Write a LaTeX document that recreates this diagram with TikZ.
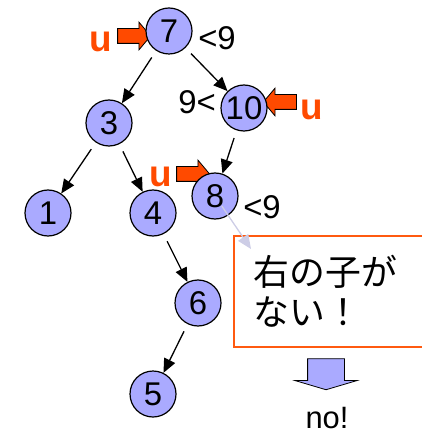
\documentclass[tikz,border=0pt]{standalone}
\usepackage{fontspec}
\setmainfont{Liberation Sans}
\newfontfamily\jpfont{Noto Sans CJK JP}
\usetikzlibrary{arrows.meta,shapes.arrows}
\definecolor{nodeblue}{HTML}{AAAAFF}
\definecolor{ptrorange}{HTML}{FF4A00}
\definecolor{boxorange}{HTML}{FF5A10}
\definecolor{hintgray}{HTML}{CDCDE6}
\tikzset{
  >={Triangle[length=14bp,width=12bp]},
  % tree
  bn/.style={circle,draw=black,fill=nodeblue,line width=1.2bp,inner sep=0pt,
             minimum size=46bp,font=\fontsize{33}{33}\selectfont},
  be/.style={->,draw=black,line width=1.3bp,shorten <=8bp},
  lbl/.style={font=\fontsize{33}{33}\selectfont,inner sep=0pt},
  % pointer u
  ptr/.style={single arrow,draw=black,fill=ptrorange,line width=0.8bp,
              inner xsep=0pt,inner ysep=7bp,minimum height=33bp,
              single arrow head extend=6.5bp,single arrow tip angle=100},
  utxt/.style={font=\fontsize{37}{37}\selectfont\bfseries,text=ptrorange,
               inner sep=0pt},
  % note
  note/.style={draw=boxorange,line width=1.6bp,anchor=north west,align=left,
               text width=157bp,inner xsep=20bp,minimum height=111bp,
               font=\jpfont\fontsize{36}{41}\selectfont},
  hint/.style={-{Triangle[length=14bp,width=12bp]},draw=hintgray,
               line width=1.3bp,shorten <=12bp},
  down/.style={single arrow,draw=black,fill=nodeblue,line width=0.8bp,
               inner xsep=18bp,inner ysep=0pt,minimum height=31bp,
               single arrow head extend=12.5bp,single arrow tip angle=147,
               shape border rotate=270},
}

\begin{document}
\begin{tikzpicture}[x=1bp,y=-1bp]
\useasboundingbox (0,0) rectangle (421,436);
  % u pointers (under the nodes)
  \node[ptr] (p7) at (131,36) {};
  \node[ptr,shape border rotate=180] (p10) at (283,102) {};
  \node[ptr] (p8) at (190,174) {};
  \node[utxt] (u7) at (101,42) {u};
  \node[utxt] (u10) at (312,110) {u};
  \node[utxt] (u8) at (161,177) {u};
  % tree
  \node[bn] (n7) at (169,31) {7};
  \node[bn] (n10) at (244,108) {10};
  \node[bn] (n3) at (109,123) {3};
  \node[bn] (n1) at (48,213) {1};
  \node[bn] (n4) at (153,213) {4};
  \node[bn] (n8) at (215,196) {8};
  \node[bn] (n6) at (198,303) {6};
  \node[bn] (n5) at (153,394) {5};
  \draw[be] (n7) -- (n3);
  \draw[be] (n7) -- (n10);
  \draw[be] (n3) -- (n1);
  \draw[be] (n3) -- (n4);
  \draw[be] (n10) -- (n8);
  \draw[be] (n4) -- (n6);
  \draw[be] (n6) -- (n5);
  \node[lbl] (c7) at (217,38) {<9};
  \node[lbl] (c10) at (197,102) {9<};
  \node[lbl] (c8) at (262,207) {<9};
  % no right child
  \node[note] (box) at (233,235) {右の子が\\ない！};
  \coordinate (hinttip) at (251,249);
  \draw[hint] (n8.center) -- (hinttip);
  \node[down] (darr) at (326,371.5) {};
  \node[lbl,font=\fontsize{31}{31}\selectfont] (res) at (327,418) {no!};
\end{tikzpicture}
\end{document}
